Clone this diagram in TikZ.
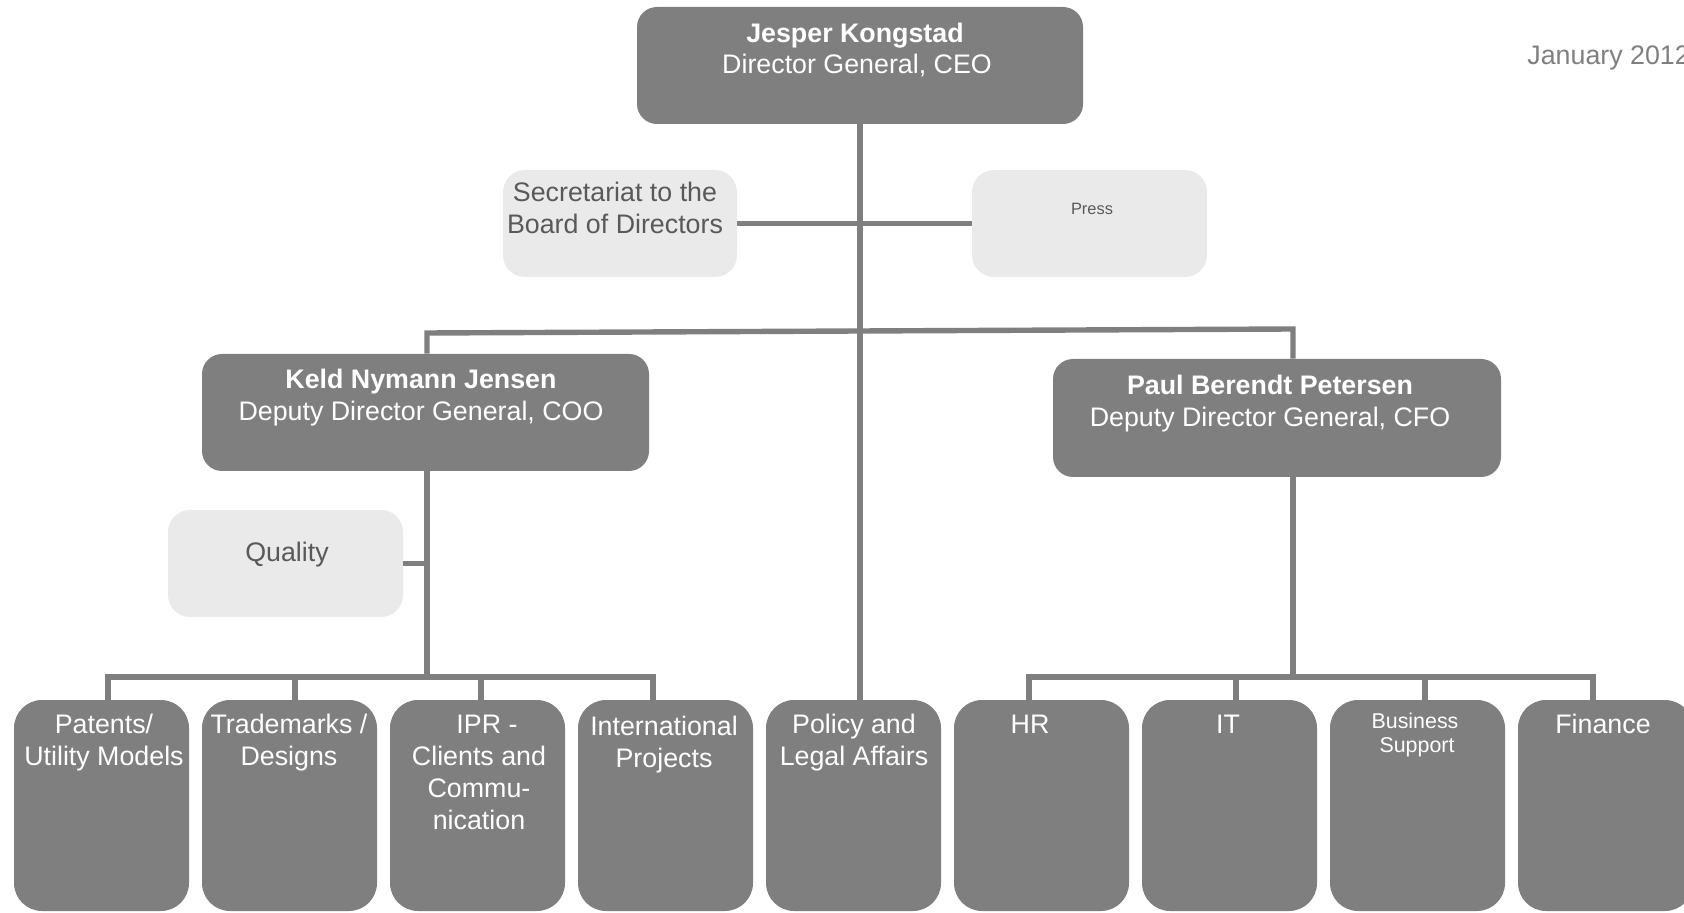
\documentclass[tikz,border=0pt]{standalone}
\usepackage{fontspec}
\setmainfont{Liberation Sans}
\usetikzlibrary{fit}
\definecolor{boxgray}{HTML}{7F7F7F}
\definecolor{lightfill}{HTML}{EAEAEA}
\definecolor{lighttext}{HTML}{595959}
\begin{document}
\begin{tikzpicture}[x=0.5pt,y=-0.5pt,
  darkbox/.style={fill=boxgray, draw=none, rounded corners=10pt, inner sep=0pt},
  bottombox/.style={fill=boxgray, draw=none, rounded corners=14pt, inner sep=0pt},
  lightbox/.style={fill=lightfill, draw=none, rounded corners=11pt, inner sep=0pt},
  conn/.style={draw=boxgray, line width=2.7pt},
  wtext/.style={text=white, font=\fontsize{13.4}{16}\selectfont, anchor=base, inner sep=0pt},
  wbold/.style={text=white, font=\fontsize{13.4}{16}\selectfont\bfseries, anchor=base, inner sep=0pt},
  wsmall/.style={text=white, font=\fontsize{10.7}{12.5}\selectfont, anchor=base, inner sep=0pt},
  ltext/.style={text=lighttext, font=\fontsize{13.4}{16}\selectfont, anchor=base, inner sep=0pt},
  lsmall/.style={text=lighttext, font=\fontsize{8.2}{10}\selectfont, anchor=base, inner sep=0pt},
  datetext/.style={text=boxgray, font=\fontsize{13.4}{16}\selectfont, anchor=base west, inner sep=0pt}
]
\useasboundingbox (0,0) rectangle (1684,913);
\clip (0,0) rectangle (1684,913);

% ---------- boxes ----------
\node[darkbox, fit={(637,7) (1083,124)}] (ceo) {};
\node[lightbox, fit={(503,170) (737,277)}] (sec) {};
\node[lightbox, fit={(972,170) (1207,277)}] (press) {};
\node[darkbox, fit={(202,354) (649,471)}] (keld) {};
\node[darkbox, fit={(1053,359) (1501,477)}] (paul) {};
\node[lightbox, fit={(168,510) (403,617)}] (quality) {};

\node[bottombox, fit={(14,700) (189,911)}] (patents) {};
\node[bottombox, fit={(202,700) (377,911)}] (trade) {};
\node[bottombox, fit={(390,700) (565,911)}] (ipr) {};
\node[bottombox, fit={(578,700) (753,911)}] (intl) {};
\node[bottombox, fit={(766,700) (941,911)}] (policy) {};
\node[bottombox, fit={(954,700) (1129,911)}] (hr) {};
\node[bottombox, fit={(1142,700) (1317,911)}] (it) {};
\node[bottombox, fit={(1330,700) (1505,911)}] (bs) {};
\node[bottombox, fit={(1518,700) (1693,911)}] (fin) {};

% ---------- connectors ----------
\coordinate (jl) at (427,333);
\coordinate (jr) at (1293,329);
\coordinate (lb1) at (108,677);
\coordinate (lb2) at (295,677);
\coordinate (lb3) at (481,677);
\coordinate (lb4) at (653,677);
\coordinate (rb1) at (1029,677);
\coordinate (rb2) at (1236,677);
\coordinate (rb3) at (1425,677);
\coordinate (rb4) at (1593,677);

\draw[conn] (ceo.south) -- (ceo.south |- policy.north);
\draw[conn] (sec.east) -- (press.west);
\draw[conn] (jl |- keld.north) -- (jl) -- (jr) -- (jr |- paul.north);
\draw[conn] (jl |- keld.south) -- (jl |- lb1);
\draw[conn] (quality.east) -- (quality.east -| jl);
\draw[conn] (lb1 |- patents.north) -- (lb1) -- (lb4) -- (lb4 |- intl.north);
\draw[conn] (lb2) -- (lb2 |- trade.north);
\draw[conn] (lb3) -- (lb3 |- ipr.north);
\draw[conn] (jr |- paul.south) -- (jr |- rb1);
\draw[conn] (rb1 |- hr.north) -- (rb1) -- (rb4) -- (rb4 |- fin.north);
\draw[conn] (rb2) -- (rb2 |- it.north);
\draw[conn] (rb3) -- (rb3 |- bs.north);

% ---------- texts ----------
\node[wbold] (ceo1) at (855,43) {Jesper Kongstad};
\node[wtext] (ceo2) at (857,74) {Director General, CEO};
\node[datetext] (date) at (1527,65) {January 2012};

\node[ltext] (sec1) at (615,202) {Secretariat to the};
\node[ltext] (sec2) at (615,234) {Board of Directors};
\node[lsmall] (press1) at (1092,215) {Press};

\node[wbold] (keld1) at (421,389) {Keld Nymann Jensen};
\node[wtext] (keld2) at (421,421) {Deputy Director General, COO};
\node[wbold] (paul1) at (1270,395) {Paul Berendt Petersen};
\node[wtext] (paul2) at (1270,427) {Deputy Director General, CFO};
\node[ltext] (qual1) at (287,561) {Quality};

\node[wtext] (pat1) at (104,733) {Patents/};
\node[wtext] (pat2) at (104,765) {Utility Models};
\node[wtext] (tra1) at (289,733) {Trademarks /};
\node[wtext] (tra2) at (289,765) {Designs};
\node[wtext] (ipr1) at (487,733) {IPR -};
\node[wtext] (ipr2) at (479,765) {Clients and};
\node[wtext] (ipr3) at (479,797) {Commu-};
\node[wtext] (ipr4) at (479,829) {nication};
\node[wtext] (int1) at (664,735) {International};
\node[wtext] (int2) at (664,767) {Projects};
\node[wtext] (pol1) at (854,733) {Policy and};
\node[wtext] (pol2) at (854,765) {Legal Affairs};
\node[wtext] (hr1) at (1030,733) {HR};
\node[wtext] (it1) at (1228,733) {IT};
\node[wsmall] (bs1) at (1415,728) {Business};
\node[wsmall] (bs2) at (1417,752) {Support};
\node[wtext] (fin1) at (1603,733) {Finance};
\end{tikzpicture}
\end{document}
